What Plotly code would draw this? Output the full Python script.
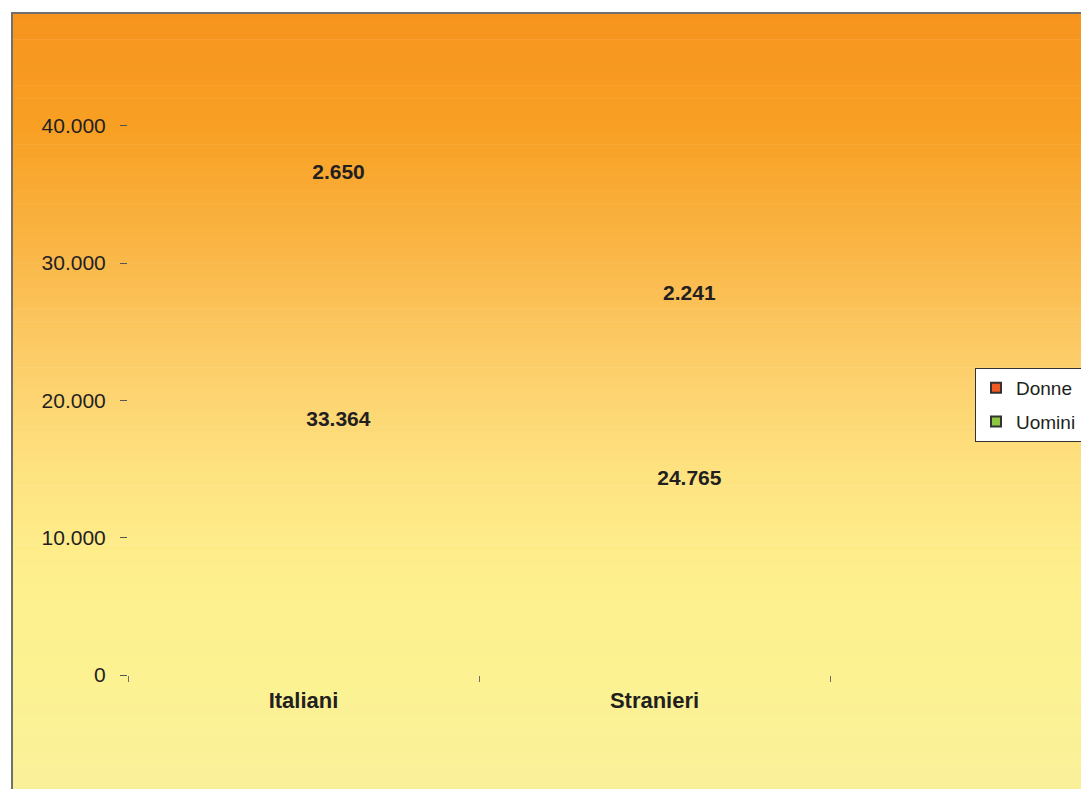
import numpy as np
import plotly.graph_objects as go

# ---------------- data ----------------
categories = ["Italiani", "Stranieri"]
uomini = [33364, 24765]
donne = [2650, 2241]
y_tick_vals = [0, 10000, 20000, 30000, 40000]
legend_names = ["Donne", "Uomini"]

# ---------------- layout geometry / style ----------------
W, H = 1089, 789
OFF = 8                      # page body margin offset
X0_PX, X1_PX = 128, 830      # plot area in screen pixels
Y0_PX, Y1_PX = 675, 57
L = X0_PX - OFF
R = W - (X1_PX - OFF)
T = Y1_PX - OFF
B = H - (Y0_PX - OFF)
PW, PH = W - L - R, H - T - B
Y_MAX = 45000
DX_PX, DY_PX = 35, 27             # 3D depth shift of the (invisible) bars
dx = DX_PX / (PW / len(categories))
dy = DY_PX / PH * Y_MAX
TXT = "#231F20"
FONT = "Liberation Sans, Arial, Helvetica, sans-serif"


def px_x(p):
    return (p - OFF - L) / PW


def px_y(p):
    return (H - B - (p - OFF)) / PH


fig = go.Figure()

# anchor trace for the visible category axis
fig.add_trace(go.Scatter(
    x=categories, y=[u + d for u, d in zip(uomini, donne)], mode="markers",
    marker=dict(opacity=0), hoverinfo="skip", showlegend=False))

label_font = dict(family=FONT, size=21, color=TXT, weight="bold")
fig.add_trace(go.Bar(
    x=categories, y=uomini, name="Uomini", xaxis="x2", yaxis="y2",
    marker=dict(color="rgba(0,0,0,0)", line=dict(width=0)), width=0.5,
    texttemplate="%{y:,}", textposition="inside", insidetextanchor="middle",
    constraintext="none", textfont=label_font, showlegend=False))
fig.add_trace(go.Bar(
    x=categories, y=donne, name="Donne", xaxis="x2", yaxis="y2",
    marker=dict(color="rgba(0,0,0,0)", line=dict(width=0)), width=0.5,
    texttemplate="%{y:,}", textposition="inside", insidetextanchor="middle",
    constraintext="none", textfont=label_font, showlegend=False))

# legend entries
leg_colors = {"Donne": "#F15A22", "Uomini": "#8DC63F"}
for name in legend_names:
    fig.add_trace(go.Scatter(
        x=[None], y=[None], mode="markers", name=name, legendgroup=name,
        marker=dict(symbol="square", size=10, color=leg_colors[name],
                    line=dict(color="#333333", width=2))))

# ---------------- background gradient ----------------
stops_px = [13, 130, 250, 360, 470, 570, 670, 800]
stops_rgb = np.array([
    [247, 148, 30],
    [248, 160, 36],
    [250, 182, 70],
    [252, 205, 105],
    [254, 226, 128],
    [254, 239, 140],
    [252, 242, 145],
    [249, 240, 155],
])
shapes = []
n = 120
edges = np.linspace(13, 800, n + 1)
for i in range(n):
    mid = (edges[i] + edges[i + 1]) / 2
    c = [int(round(np.interp(mid, stops_px, stops_rgb[:, k]))) for k in range(3)]
    shapes.append(dict(
        type="rect", xref="paper", yref="paper", layer="below",
        x0=px_x(12), x1=px_x(1110), y0=px_y(edges[i + 1] + 0.6), y1=px_y(edges[i]),
        fillcolor=f"rgb({c[0]},{c[1]},{c[2]})", line=dict(width=0)))
shapes.append(dict(
    type="rect", xref="paper", yref="paper", layer="below",
    x0=px_x(12), x1=px_x(1130), y0=px_y(830), y1=px_y(13),
    fillcolor="rgba(0,0,0,0)", line=dict(color="#707070", width=2)))

fig.update_layout(
    width=W, height=H,
    margin=dict(l=L, r=R, t=T, b=B, autoexpand=False),
    paper_bgcolor="white", plot_bgcolor="rgba(0,0,0,0)",
    separators=",.",
    barmode="stack",
    font=dict(family=FONT, color=TXT),
    shapes=shapes,
    showlegend=True,
    legend=dict(
        x=px_x(975), y=px_y(368), xanchor="left", yanchor="top",
        bgcolor="white", bordercolor="#333333", borderwidth=1,
        font=dict(family=FONT, size=19, color=TXT),
        traceorder="grouped", tracegroupgap=6, itemwidth=30),
    xaxis=dict(
        type="category", categoryorder="array", categoryarray=categories,
        range=[-0.5, len(categories) - 0.5], tickson="boundaries",
        ticks="outside", ticklen=6, tickcolor="#6d6d6d", tickwidth=1,
        ticklabelstandoff=10,
        showgrid=False, zeroline=False, showline=False,
        tickfont=dict(family=FONT, size=22, color=TXT, weight="bold")),
    yaxis=dict(
        range=[0, Y_MAX], tickvals=y_tick_vals, tickformat=",",
        ticks="outside", ticklen=7, tickcolor="#555555", tickwidth=1,
        ticklabelstandoff=10,
        showgrid=False, zeroline=False, showline=False,
        tickfont=dict(family=FONT, size=21, color=TXT)),
    xaxis2=dict(
        type="category", categoryorder="array", categoryarray=categories,
        overlaying="x", anchor="y2", visible=False,
        range=[-0.5 - dx, len(categories) - 0.5 - dx]),
    yaxis2=dict(
        overlaying="y", anchor="x2", visible=False,
        range=[-dy, Y_MAX - dy]),
)

fig.write_html("out.html")
